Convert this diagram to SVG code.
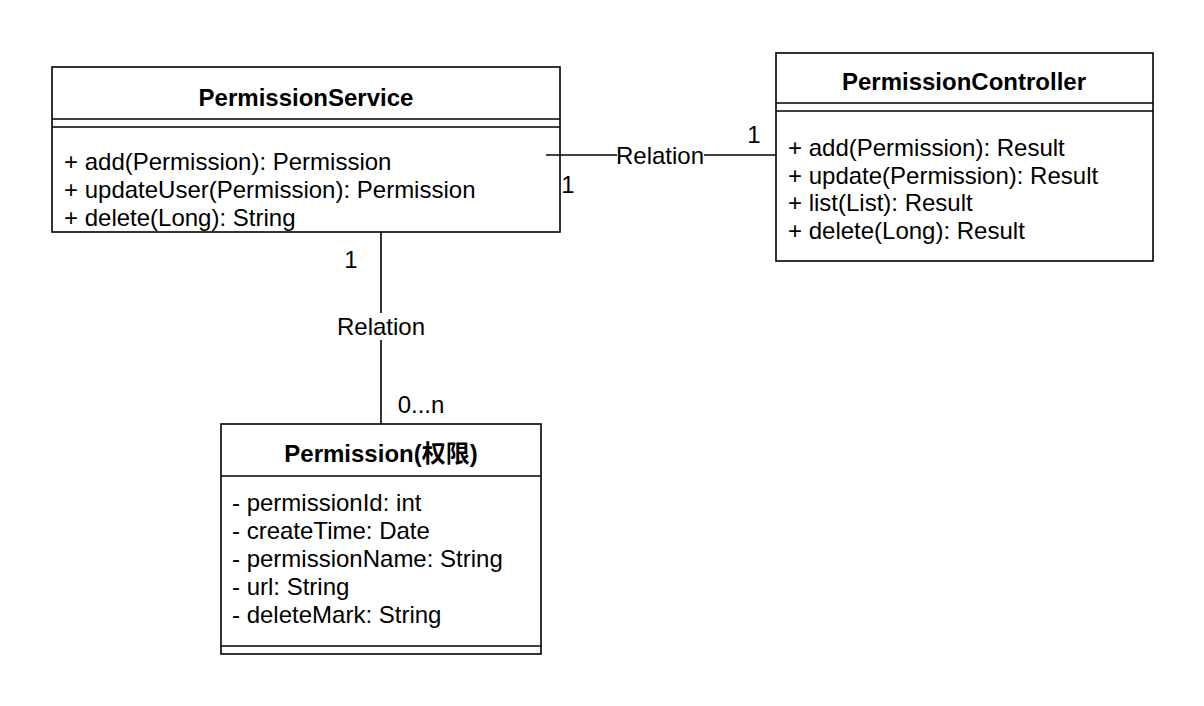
<svg xmlns="http://www.w3.org/2000/svg" width="1204" height="706" viewBox="0 0 1204 706">
<style>
.box{fill:#fff;stroke:#000;stroke-width:1.6}
.ln{stroke:#000;stroke-width:1.6;fill:none}
.t{font-family:"Liberation Sans",Arial,"Noto Sans CJK SC",sans-serif;font-size:24px;fill:#000}
.b{font-weight:bold;text-anchor:middle}
.m{text-anchor:middle}
</style>
<rect width="1204" height="706" fill="#fff"/>
<g id="PermissionService">
<rect class="box" x="52" y="67" width="508" height="165"/>
<line class="ln" x1="52" y1="119" x2="560" y2="119"/>
<line class="ln" x1="52" y1="127" x2="560" y2="127"/>
<text class="t b" x="306" y="106">PermissionService</text>
<text class="t" x="64" y="170">+ add(Permission): Permission</text>
<text class="t" x="64" y="198">+ updateUser(Permission): Permission</text>
<text class="t" x="64" y="226">+ delete(Long): String</text>
</g>
<g id="PermissionController">
<rect class="box" x="776" y="53" width="377" height="208"/>
<line class="ln" x1="776" y1="103" x2="1153" y2="103"/>
<line class="ln" x1="776" y1="111" x2="1153" y2="111"/>
<text class="t b" x="964" y="90">PermissionController</text>
<text class="t" x="788" y="156">+ add(Permission): Result</text>
<text class="t" x="788" y="184">+ update(Permission): Result</text>
<text class="t" x="788" y="211">+ list(List): Result</text>
<text class="t" x="788" y="239">+ delete(Long): Result</text>
</g>
<g id="Permission">
<rect class="box" x="221" y="424" width="320" height="230"/>
<line class="ln" x1="221" y1="476" x2="541" y2="476"/>
<line class="ln" x1="221" y1="646" x2="541" y2="646"/>
<text class="t b" x="381" y="462">Permission(权限)</text>
<text class="t" x="232" y="511">- permissionId: int</text>
<text class="t" x="232" y="539">- createTime: Date</text>
<text class="t" x="232" y="567">- permissionName: String</text>
<text class="t" x="232" y="595">- url: String</text>
<text class="t" x="232" y="623">- deleteMark: String</text>
</g>
<g id="connectors">
<line class="ln" x1="546" y1="155" x2="776" y2="155"/>
<rect x="617" y="143" width="87" height="24" fill="#fff"/>
<text class="t m" x="660" y="164">Relation</text>
<text class="t m" x="754" y="143">1</text>
<text class="t m" x="568" y="193">1</text>
<line class="ln" x1="381" y1="232" x2="381" y2="424"/>
<rect x="336" y="313" width="90" height="27" fill="#fff"/>
<text class="t m" x="381" y="335">Relation</text>
<text class="t m" x="351" y="268">1</text>
<text class="t m" x="421" y="413">0...n</text>
</g>
</svg>
